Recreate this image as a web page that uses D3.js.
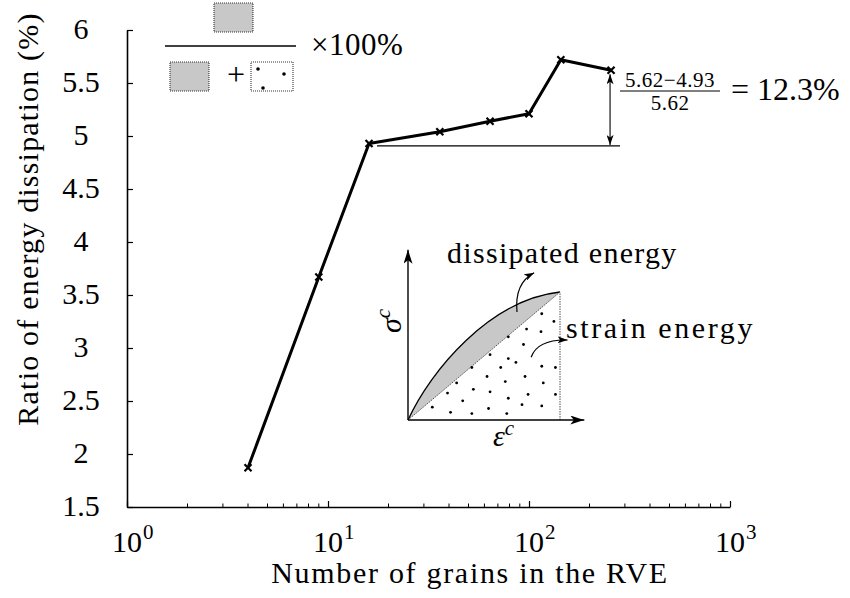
<!DOCTYPE html>
<html>
<head>
<meta charset="utf-8">
<script src="https://cdn.jsdelivr.net/npm/d3@7"></script>
</head>
<body style="margin:0">
<svg id="chart" width="850" height="598" font-family="Liberation Serif"></svg>
<script>
// Measured ratio of dissipated energy vs. RVE size
const grains = [4, 9, 16, 36, 64, 100, 144, 256];
const ratio  = [1.87, 3.67, 4.93, 5.04, 5.14, 5.21, 5.72, 5.62];
const yTicks = [1.5, 2, 2.5, 3, 3.5, 4, 4.5, 5, 5.5, 6];
const xDecades = [0, 1, 2, 3];
const xTitle = "Number of grains in the RVE";
const yTitle = "Ratio of energy dissipation (%)";
// indices of the plateau start and the last point, used for the relative-difference note
const plateauIdx = 2, lastIdx = 7;

// schematic stress-strain inset: strain-energy stipple dots in unit (strain, stress) coords
const stippleU = [0.88, 0.96, 0.78, 0.875, 0.66, 0.76, 0.54, 0.66, 0.71, 0.88, 0.42, 0.61, 0.97, 0.52, 0.77,
                  0.64, 0.89, 0.32, 0.43, 0.54, 0.26, 0.79, 0.97, 0.66, 0.36, 0.88, 0.75, 0.16, 0.53, 0.28, 0.42, 0.65];
const stippleV = [0.83, 0.77, 0.71, 0.69, 0.65, 0.59, 0.51, 0.48, 0.45, 0.42, 0.41, 0.41, 0.41, 0.34, 0.34,
                  0.30, 0.29, 0.29, 0.24, 0.22, 0.21, 0.20, 0.20, 0.17, 0.15, 0.11, 0.12, 0.10, 0.09, 0.06, 0.05, 0.05];

const SERIF = "Liberation Serif";
const svg = d3.select("#chart");
const FS = 30;

const x = d3.scaleLog().domain([1, 1000]).range([127, 730]);
const y = d3.scaleLinear().domain([1.5, 6]).range([507, 30]);

// apply the serif face to a text selection
function serif(sel) {
  return sel.attr("font-family", SERIF).style("font-family", SERIF);
}
// serif text of a given size
function txt(parent, size) {
  return serif(parent.append("text")).attr("font-size", size).attr("fill", "#000");
}

// arrowhead markers
const defs = svg.append("defs");
function arrowMarker(id, w, h) {
  defs.append("marker")
    .attr("id", id).attr("viewBox", `0 0 ${w} ${h}`)
    .attr("refX", w).attr("refY", h / 2)
    .attr("markerWidth", w).attr("markerHeight", h)
    .attr("markerUnits", "userSpaceOnUse")
    .attr("orient", "auto-start-reverse")
    .append("path")
    .attr("d", `M0,0 L${w},${h / 2} L0,${h} L${w * 0.25},${h / 2} Z`)
    .attr("fill", "#000");
}
arrowMarker("arr", 10, 7);
arrowMarker("arrBig", 14, 9);

// ---- y axis: line and inward ticks from d3, labels drawn separately
const gy = svg.append("g").attr("transform", "translate(127,0)")
  .call(d3.axisLeft(y).tickValues(yTicks).tickSizeInner(-6).tickSizeOuter(0).tickFormat(""));
gy.select(".domain").attr("stroke", "#000").attr("stroke-width", 1.6);
gy.selectAll(".tick line").attr("stroke", "#000").attr("stroke-width", 1.2);
serif(svg.selectAll(".ylab").data(yTicks).join("text").attr("class", "ylab"))
  .attr("x", 81).attr("y", d => y(d) + 8.5)
  .attr("text-anchor", "middle")
  .attr("font-size", FS).attr("fill", "#000")
  .text(d => d);

// ---- x axis (log, with minor ticks)
const xMajor = xDecades.map(d => Math.pow(10, d));
const xMinor = [];
xDecades.slice(0, -1).forEach(d => { for (let k = 2; k <= 9; k++) xMinor.push(k * Math.pow(10, d)); });
const gx = svg.append("g").attr("transform", "translate(0,507)")
  .call(d3.axisBottom(x).tickValues(xMajor).tickSizeInner(-6).tickSizeOuter(0).tickFormat(""));
gx.select(".domain").attr("stroke", "#000").attr("stroke-width", 1.6);
gx.selectAll(".tick line").attr("stroke", "#000").attr("stroke-width", 1.2);
gx.selectAll(".minor").data(xMinor).join("line")
  .attr("class", "minor")
  .attr("x1", d => x(d)).attr("x2", d => x(d))
  .attr("y1", 0).attr("y2", -3.5)
  .attr("stroke", "#000").attr("stroke-width", 1);
const xl = serif(svg.selectAll(".xlab").data(xDecades).join("text").attr("class", "xlab"))
  .attr("x", d => x(Math.pow(10, d)) - 15).attr("y", 552)
  .attr("text-anchor", "start")
  .attr("font-size", FS).attr("fill", "#000");
xl.append("tspan").text("10");
xl.append("tspan").attr("dy", -13).attr("dx", 1).attr("font-size", 21).text(d => d);

// axis titles
txt(svg, FS)
  .attr("x", 470).attr("y", 583)
  .attr("text-anchor", "middle")
  .attr("letter-spacing", 1.7)
  .text(xTitle);
txt(svg, FS)
  .attr("transform", "translate(38,219) rotate(-90)")
  .attr("text-anchor", "middle")
  .attr("letter-spacing", 1.2)
  .text(yTitle);

// ---- data line + cross markers
const pts = grains.map((g, i) => [g, ratio[i]]);
svg.append("path")
  .attr("d", d3.line().x(d => x(d[0])).y(d => y(d[1]))(pts))
  .attr("fill", "none").attr("stroke", "#000").attr("stroke-width", 3)
  .attr("stroke-linejoin", "round");
svg.selectAll(".mk").data(pts).join("path").attr("class", "mk")
  .attr("transform", d => `translate(${x(d[0])},${y(d[1])})`)
  .attr("d", "M-3.5,-3.5L3.5,3.5M-3.5,3.5L3.5,-3.5")
  .attr("stroke", "#000").attr("stroke-width", 2.2);

// ---- plateau reference line and relative difference
const lo = ratio[plateauIdx], hi = ratio[lastIdx];
const refY = y(lo) + 2.5;
svg.append("line")
  .attr("x1", x(grains[plateauIdx]) + 8).attr("x2", x(grains[lastIdx]) + 9)
  .attr("y1", refY).attr("y2", refY)
  .attr("stroke", "#000").attr("stroke-width", 1.1);
const ax = x(grains[lastIdx]) - 1;
svg.append("line")
  .attr("x1", ax).attr("x2", ax)
  .attr("y1", y(hi) + 4).attr("y2", refY - 1)
  .attr("stroke", "#000").attr("stroke-width", 1.1)
  .attr("marker-start", "url(#arr)").attr("marker-end", "url(#arr)");

const fx = 670;
txt(svg, 21).attr("x", fx).attr("y", 87).attr("text-anchor", "middle")
  .attr("letter-spacing", 0.5)
  .text(`${hi.toFixed(2)}\u2212${lo.toFixed(2)}`);
svg.append("line").attr("x1", fx - 50).attr("x2", fx + 50).attr("y1", 91).attr("y2", 91)
  .attr("stroke", "#000").attr("stroke-width", 1);
txt(svg, 21).attr("x", fx).attr("y", 110).attr("text-anchor", "middle")
  .attr("letter-spacing", 0.5)
  .text(hi.toFixed(2));
txt(svg, 32).attr("x", 731).attr("y", 100)
  .text(`= ${((hi - lo) / hi * 100).toFixed(1)}%`);

// ---- ratio definition (dissipated / (dissipated + strain)) x 100%
const gray = "#c8c8c8";
const def = svg.append("g");
function swatch(x0, y0, w, h, fill) {
  def.append("rect").attr("x", x0).attr("y", y0).attr("width", w).attr("height", h)
    .attr("fill", fill).attr("stroke", "#333").attr("stroke-width", 1.1)
    .attr("stroke-dasharray", "1,1");
}
swatch(214, 3, 39, 29, gray);
def.append("line").attr("x1", 165).attr("x2", 296).attr("y1", 46).attr("y2", 46)
  .attr("stroke", "#000").attr("stroke-width", 1.3);
swatch(170, 62, 39, 29, gray);
txt(def, 32).attr("x", 236).attr("y", 85).attr("text-anchor", "middle").text("+");
swatch(251, 62, 42, 29, "#fff");
[[258, 69], [284, 74], [263, 88]].forEach(p =>
  def.append("circle").attr("cx", p[0]).attr("cy", p[1]).attr("r", 1.8).attr("fill", "#000"));
txt(def, 31).attr("x", 311).attr("y", 55).attr("letter-spacing", 0.5).text("\u00d7100%");

// ---- schematic stress-strain inset
const ix = d3.scaleLinear().domain([0, 1]).range([408, 560]);
const iy = d3.scaleLinear().domain([0, 1]).range([420, 292]);
const inset = svg.append("g");

// dissipated energy: area between loading curve and unloading chord
const curve = d3.path();
curve.moveTo(ix(0), iy(0));
curve.bezierCurveTo(ix(0.15), iy(0.39), ix(0.54), iy(0.94), ix(1), iy(1));
const band = d3.path();
band.moveTo(ix(0), iy(0));
band.bezierCurveTo(ix(0.15), iy(0.39), ix(0.54), iy(0.94), ix(1), iy(1));
band.lineTo(ix(0), iy(0));
band.closePath();
inset.append("path").attr("d", band.toString()).attr("fill", gray).attr("stroke", "none");
inset.append("path").attr("d", curve.toString()).attr("fill", "none")
  .attr("stroke", "#000").attr("stroke-width", 1.3);
inset.append("line").attr("x1", ix(0)).attr("y1", iy(0)).attr("x2", ix(1)).attr("y2", iy(1))
  .attr("stroke", "#555").attr("stroke-width", 1).attr("stroke-dasharray", "1.5,1");
inset.append("line").attr("x1", ix(1)).attr("y1", iy(0)).attr("x2", ix(1)).attr("y2", iy(1))
  .attr("stroke", "#555").attr("stroke-width", 1).attr("stroke-dasharray", "1.5,1");

// strain energy stipple
inset.selectAll(".dot").data(stippleU.map((u, i) => [u, stippleV[i]])).join("circle")
  .attr("class", "dot")
  .attr("cx", d => ix(d[0])).attr("cy", d => iy(d[1])).attr("r", 1.4).attr("fill", "#000");

// inset axes
inset.append("line").attr("x1", ix(0)).attr("y1", iy(0)).attr("x2", ix(0)).attr("y2", iy(1.33))
  .attr("stroke", "#000").attr("stroke-width", 1.4).attr("marker-end", "url(#arrBig)");
inset.append("line").attr("x1", ix(0)).attr("y1", iy(0)).attr("x2", ix(1.16)).attr("y2", iy(0))
  .attr("stroke", "#000").attr("stroke-width", 1.4).attr("marker-end", "url(#arrBig)");

// call-out arrows
inset.append("path")
  .attr("d", `M${ix(0.717)},${iy(0.844)} Q${ix(0.7)},${iy(1.07)} ${ix(0.83)},${iy(1.15)}`)
  .attr("fill", "none").attr("stroke", "#000").attr("stroke-width", 1.2).attr("marker-end", "url(#arr)");
inset.append("path")
  .attr("d", `M${ix(0.81)},${iy(0.49)} Q${ix(0.85)},${iy(0.63)} ${ix(1.05)},${iy(0.625)}`)
  .attr("fill", "none").attr("stroke", "#000").attr("stroke-width", 1.2).attr("marker-end", "url(#arr)");

txt(inset, 30).attr("x", 447).attr("y", 263).attr("letter-spacing", 1.3).text("dissipated energy");
txt(inset, 30).attr("x", 566).attr("y", 338).attr("letter-spacing", 2.6).text("strain energy");

// inset axis symbols
const sig = txt(inset, 30).attr("transform", "translate(401,333) rotate(-90)").attr("font-style", "italic");
sig.append("tspan").text("\u03c3");
sig.append("tspan").attr("dy", -11).attr("font-size", 21).text("c");
const eps = txt(inset, 30).attr("x", 493).attr("y", 446).attr("font-style", "italic");
eps.append("tspan").text("\u03b5");
eps.append("tspan").attr("dy", -11).attr("font-size", 21).text("c");
</script>
</body>
</html>
